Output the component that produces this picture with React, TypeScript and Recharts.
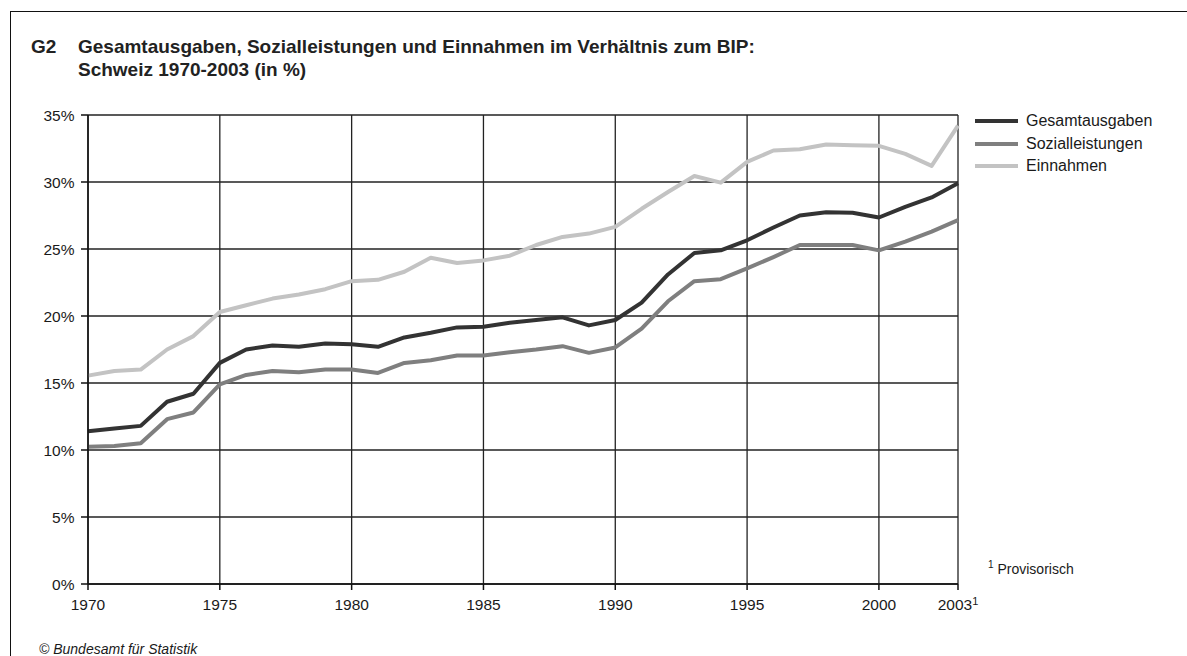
import { LineChart, Line, XAxis, YAxis, CartesianGrid } from "recharts";

const years = [
    1970, 1971, 1972, 1973, 1974, 1975, 1976, 1977, 1978, 1979, 1980, 1981,
    1982, 1983, 1984, 1985, 1986, 1987, 1988, 1989, 1990, 1991, 1992, 1993,
    1994, 1995, 1996, 1997, 1998, 1999, 2000, 2001, 2002, 2003,
];

const gesamtausgaben = [
    11.4, 11.6, 11.8, 13.6, 14.2, 16.5, 17.5, 17.8, 17.7, 17.95, 17.9, 17.7,
    18.4, 18.75, 19.15, 19.2, 19.5, 19.7, 19.9, 19.3, 19.7, 21.0, 23.1, 24.7,
    24.9, 25.65, 26.6, 27.5, 27.75, 27.7, 27.35, 28.15, 28.85, 29.9,
];

const sozialleistungen = [
    10.25, 10.3, 10.5, 12.3, 12.8, 14.9, 15.6, 15.9, 15.8, 16.0, 16.0, 15.75,
    16.5, 16.7, 17.05, 17.05, 17.3, 17.5, 17.75, 17.25, 17.65, 19.05, 21.1, 22.6,
    22.75, 23.55, 24.4, 25.3, 25.3, 25.3, 24.9, 25.55, 26.3, 27.15,
];

const einnahmen = [
    15.55, 15.9, 16.0, 17.5, 18.5, 20.3, 20.8, 21.3, 21.6, 22.0, 22.6, 22.7,
    23.3, 24.35, 23.95, 24.15, 24.5, 25.3, 25.9, 26.15, 26.65, 28.0, 29.25, 30.45,
    29.95, 31.5, 32.35, 32.45, 32.8, 32.75, 32.7, 32.1, 31.2, 34.2,
];

const xTicks = [1970, 1975, 1980, 1985, 1990, 1995, 2000, 2003];
const yTicks = [0, 5, 10, 15, 20, 25, 30, 35];

const series = [
    { key: "gesamt", name: "Gesamtausgaben", color: "#333333", values: gesamtausgaben },
    { key: "sozial", name: "Sozialleistungen", color: "#7f7f7f", values: sozialleistungen },
    { key: "einnahmen", name: "Einnahmen", color: "#c3c3c3", values: einnahmen },
];

const data = years.map((year, i) => {
    const row: Record<string, number> = { year };
    series.forEach((s) => {
        row[s.key] = s.values[i];
    });
    return row;
});

const FONT = '"Liberation Sans", Arial, Helvetica, sans-serif';

function YearTick({ x, y, payload }: any) {
    return (
        <text x={x} y={y} dy="0.71em" textAnchor="middle" fill="#1a1a1a" fontSize={15.5} fontFamily={FONT}>
            {payload.value}
            {payload.value === 2003 && (
                <tspan dy="-0.45em" fontSize={11}>1</tspan>
            )}
        </text>
    );
}

export default function App() {
    return (
        <div
            style={{
                position: "absolute",
                left: 0,
                top: 0,
                width: 1187,
                height: 656,
                overflow: "hidden",
                background: "#fff",
                fontFamily: FONT,
                color: "#1a1a1a",
            }}
        >
            {/* frame */}
            <div
                style={{
                    position: "absolute",
                    left: 10,
                    top: 11,
                    width: 1300,
                    height: 800,
                    borderLeft: "1.5px solid #111",
                    borderTop: "1.5px solid #111",
                }}
            />

            {/* title */}
            <div style={{ position: "absolute", left: 31, top: 35, fontSize: 19, fontWeight: "bold", lineHeight: "23px", color: "#222" }}>
                G2
            </div>
            <div style={{ position: "absolute", left: 78, top: 35, fontSize: 19, fontWeight: "bold", lineHeight: "23px", color: "#222", whiteSpace: "nowrap" }}>
                Gesamtausgaben, Sozialleistungen und Einnahmen im Verhältnis zum BIP:
                <br />
                Schweiz 1970-2003 (in %)
            </div>

            <LineChart
                width={1187}
                height={656}
                data={data}
                margin={{ top: 115, right: 229, left: 8, bottom: 32 }}
                style={{ position: "absolute", left: 0, top: 0 }}
            >
                <CartesianGrid stroke="#222" strokeWidth={1.3} />
                <XAxis
                    dataKey="year"
                    type="number"
                    domain={[1970, 2003]}
                    ticks={xTicks}
                    height={40}
                    tickSize={6}
                    tickMargin={9}
                    stroke="#111"
                    strokeWidth={1.5}
                    tick={<YearTick />}
                    interval={0}
                />
                <YAxis
                    domain={[0, 35]}
                    ticks={yTicks}
                    width={80}
                    tickSize={7}
                    tickMargin={6.5}
                    stroke="#111"
                    strokeWidth={1.5}
                    tick={{ fill: "#1a1a1a", fontSize: 15.5, fontFamily: FONT }}
                    tickFormatter={(v) => `${v}%`}
                    interval={0}
                />
                {series.map((s) => (
                    <Line
                        key={s.key}
                        dataKey={s.key}
                        name={s.name}
                        type="linear"
                        stroke={s.color}
                        strokeWidth={4}
                        strokeLinejoin="round"
                        dot={false}
                        activeDot={false}
                        isAnimationActive={false}
                    />
                ))}
            </LineChart>

            {/* legend */}
            <div style={{ position: "absolute", left: 975, top: 110 }}>
                {series.map((s) => (
                    <div key={s.key} style={{ display: "flex", alignItems: "center", height: 22.5 }}>
                        <div style={{ width: 43, height: 4, background: s.color, marginRight: 8 }} />
                        <span style={{ fontSize: 16, lineHeight: "22px" }}>{s.name}</span>
                    </div>
                ))}
            </div>

            {/* footnote */}
            <div style={{ position: "absolute", left: 988, top: 559, fontSize: 14 }}>
                <sup style={{ fontSize: 10 }}>1</sup> Provisorisch
            </div>

            {/* source */}
            <div style={{ position: "absolute", left: 39, top: 641, fontSize: 14, fontStyle: "italic" }}>
                © Bundesamt für Statistik
            </div>
        </div>
    );
}
